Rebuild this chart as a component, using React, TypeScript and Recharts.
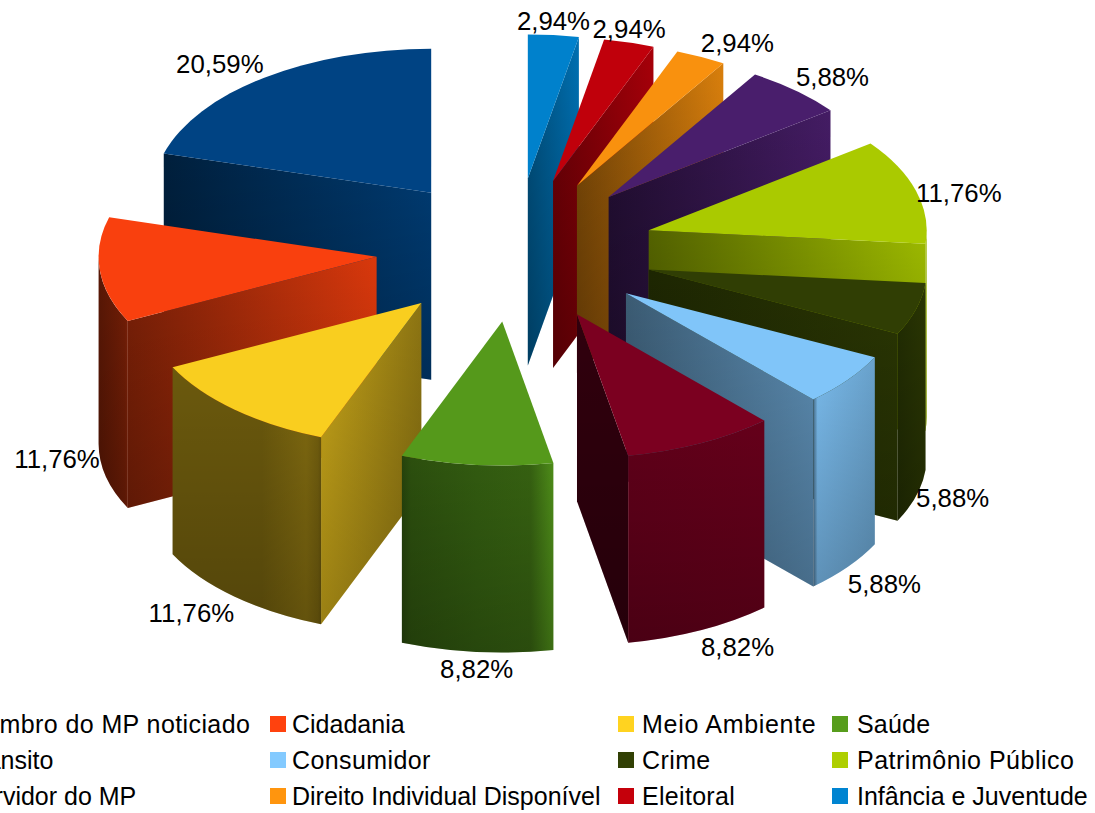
import { PieChart, Pie } from 'recharts';

const categories = [
  'Membro do MP noticiado', 'Cidadania', 'Meio Ambiente', 'Saúde',
  'Trânsito', 'Consumidor', 'Crime', 'Patrimônio Público',
  'Servidor do MP', 'Direito Individual Disponível', 'Eleitoral', 'Infância e Juventude',
];
const shares = [20.59, 11.76, 11.76, 8.82, 8.82, 5.88, 5.88, 11.76, 5.88, 2.94, 2.94, 2.94];
const colors = [
  '#004586', '#ff420e', '#ffd320', '#579d1c', '#7e0021', '#83caff',
  '#314004', '#aecf00', '#4b1f6f', '#ff950e', '#c5000b', '#0084d1',
];

// far slices first, the near ones paint over them
const drawOrder = [11, 10, 9, 8, 7, 6, 5, 4, 0, 1, 2, 3];

// brightness of the radial wall [at the apex, at the rim]
const radialShades = [
  [0.85, 0.45], [0.85, 0.48], [0.55, 0.78], [0.6, 0.6], [0.38, 0.38], [0.45, 0.7],
  [0.6, 0.85], [0.47, 0.9], [0.45, 0.9], [0.48, 0.85], [0.55, 0.85], [0.6, 0.85],
];
// brightness along the curved wall, left to right
const arcShades: number[][][] = [
  [[0, 0.4], [1, 0.4]],
  [[0, 0.35], [0.9, 0.45], [1, 0.5]],
  [[0, 0.42], [0.6, 0.42], [0.9, 0.5], [0.98, 0.45], [1, 0.4]],
  [[0, 0.42], [0.06, 0.5], [0.5, 0.58], [0.85, 0.62], [1, 0.9]],
  [[0, 0.75], [1, 0.8]],
  [[0, 0.55], [0.07, 0.92], [1, 0.8]],
  [[0, 0.7], [1, 0.85]],
  [[0, 0.9], [1, 0.9]],
  [[0, 0.9], [1, 0.9]],
  [[0, 0.9], [1, 0.9]],
  [[0, 0.9], [1, 0.9]],
  [[0, 0.9], [1, 0.9]],
];

const data = categories.map((name, i) => ({ name, value: shares[i] }));

const SQUASH = 0.518;
const EXPLODE_X = 0.5;
const EXPLODE_Y = 0.258;
const DEPTH = 187;
const RAD = Math.PI / 180;
const FONT = '"Liberation Sans", Arial, sans-serif';

const shade = (hex: string, k: number) => {
  const n = parseInt(hex.slice(1), 16);
  const c = [(n >> 16) & 255, (n >> 8) & 255, n & 255].map(v => Math.round(v * k));
  return `rgb(${c[0]},${c[1]},${c[2]})`;
};

// where the tip of an exploded slice lands
const apexOf = (cx: number, cy: number, r: number, mid: number) => ({
  x: cx + EXPLODE_X * r * Math.cos(mid * RAD),
  y: cy - EXPLODE_Y * r * Math.sin(mid * RAD),
});

function Slice3D(props: any) {
  const { cx, cy, outerRadius: r, startAngle, endAngle, name } = props;
  const idx = categories.indexOf(name ?? props.payload?.name);
  const color = colors[idx];
  const mid = (startAngle + endAngle) / 2;
  const apex = apexOf(cx, cy, r, mid);
  const ry = r * SQUASH;
  const at = (a: number) => ({
    x: apex.x + r * Math.cos(a * RAD),
    y: apex.y - ry * Math.sin(a * RAD),
  });
  const s = at(startAngle);
  const e = at(endAngle);

  const wall = (a: { x: number; y: number }, b: { x: number; y: number }) =>
    `M${a.x},${a.y} L${b.x},${b.y} L${b.x},${b.y + DEPTH} L${a.x},${a.y + DEPTH} Z`;

  const showStart = Math.cos(startAngle * RAD) > 1e-6;
  const showEnd = Math.cos(endAngle * RAD) < -1e-6;
  const rim = showStart ? s : e;
  const [apexShade, rimShade] = radialShades[idx];

  const from = ((startAngle % 360) + 360) % 360;
  const to = from + (endAngle - startAngle);
  const a0 = Math.max(from, 180);
  const a1 = Math.min(to, 360);
  const hasArc = a1 > a0;
  const p0 = at(a0);
  const p1 = at(a1);
  const arcPath = `M${p0.x},${p0.y} A${r},${ry} 0 0 0 ${p1.x},${p1.y} L${p1.x},${p1.y + DEPTH} A${r},${ry} 0 0 1 ${p0.x},${p0.y + DEPTH} Z`;

  const radialPath = wall(apex, rim);

  return (
    <g>
      <defs>
        <linearGradient id={`radial-${idx}`} gradientUnits="userSpaceOnUse" x1={apex.x} y1={0} x2={rim.x} y2={0}>
          <stop offset="0" stopColor={shade(color, apexShade)} />
          <stop offset="1" stopColor={shade(color, rimShade)} />
        </linearGradient>
        <linearGradient id={`arc-${idx}`} gradientUnits="userSpaceOnUse" x1={p0.x} y1={0} x2={p1.x} y2={0}>
          {arcShades[idx].map(([o, k]) => (
            <stop key={o} offset={o} stopColor={shade(color, k)} />
          ))}
        </linearGradient>
        <linearGradient id={`fade-${idx}`} x1="0" y1="0" x2="0" y2="1">
          <stop offset="0" stopColor="#000" stopOpacity={0} />
          <stop offset="1" stopColor="#000" stopOpacity={0.22} />
        </linearGradient>
      </defs>
      {(showStart || showEnd) && (
        <>
          <path d={radialPath} fill={`url(#radial-${idx})`} />
          <path d={radialPath} fill={`url(#fade-${idx})`} />
        </>
      )}
      {hasArc && (
        <>
          <path d={arcPath} fill={`url(#arc-${idx})`} />
          <path d={arcPath} fill={`url(#fade-${idx})`} />
        </>
      )}
      <path
        d={`M${apex.x},${apex.y} L${s.x},${s.y} A${r},${ry} 0 0 0 ${e.x},${e.y} Z`}
        fill={shade(color, 0.975)}
      />
    </g>
  );
}

function renderLabel(props: any) {
  const { cx, cy, outerRadius: r, midAngle, value } = props;
  const apex = apexOf(cx, cy, r, midAngle);
  const dirX = Math.cos(midAngle * RAD);
  const dirY = -Math.sin(midAngle * RAD);
  const x = apex.x + r * dirX;
  const y = apex.y + r * SQUASH * dirY + (dirY > 0 ? DEPTH : 0);
  const anchor = dirX > 0.3 ? 'start' : dirX < -0.3 ? 'end' : 'middle';
  const dy = Math.abs(dirY) < 0.35 ? 2 : dirY > 0 ? 17 : -14;
  return (
    <text
      x={x}
      y={y + dy}
      textAnchor={anchor}
      dominantBaseline="central"
      fontFamily={FONT}
      fontSize={25.8}
      fill="#000"
    >
      {`${value.toFixed(2).replace('.', ',')}%`}
    </text>
  );
}

const swatchX = [-59, 270, 618, 832];
const legendTextX = [-36, 292, 642, 857];
const legendTracking = [0.4, 0, 0.7, 0.2, 0, 0.4, 0.4, 0.5, 0, 0, 0.3, 0];

function LegendGrid() {
  return (
    <>
      {categories.map((name, i) => {
        const col = i % 4;
        const row = Math.floor(i / 4);
        const top = 706 + row * 36;
        return (
          <div key={name}>
            <div style={{ position: 'absolute', left: swatchX[col], top: top + 10, width: 16, height: 16, background: colors[i] }} />
            <div
              style={{
                position: 'absolute', left: legendTextX[col], top, lineHeight: '36px',
                fontFamily: FONT, fontSize: 25, color: '#000', whiteSpace: 'nowrap',
                letterSpacing: legendTracking[i],
              }}
            >
              {name}
            </div>
          </div>
        );
      })}
    </>
  );
}

export default function App() {
  return (
    <div style={{ position: 'absolute', left: 0, top: 0, width: 1095, height: 813, overflow: 'hidden', background: '#fff' }}>
      <PieChart width={1095} height={813} margin={{ top: 0, right: 0, bottom: 0, left: 0 }}>
        {drawOrder.map(i => (
          <Pie
            key={categories[i]}
            data={data}
            dataKey="value"
            nameKey="name"
            cx={515}
            cy={250}
            outerRadius={278}
            startAngle={90}
            endAngle={450}
            isAnimationActive={false}
            stroke="none"
            labelLine={false}
            shape={(p: any) => ((p.name ?? p.payload?.name) === categories[i] ? <Slice3D {...p} /> : <g />)}
          />
        ))}
        <Pie
          data={data}
          dataKey="value"
          nameKey="name"
          cx={515}
          cy={250}
          outerRadius={278}
          startAngle={90}
          endAngle={450}
          isAnimationActive={false}
          stroke="none"
          labelLine={false}
          label={renderLabel}
          shape={() => <g />}
        />
      </PieChart>
      <LegendGrid />
    </div>
  );
}
